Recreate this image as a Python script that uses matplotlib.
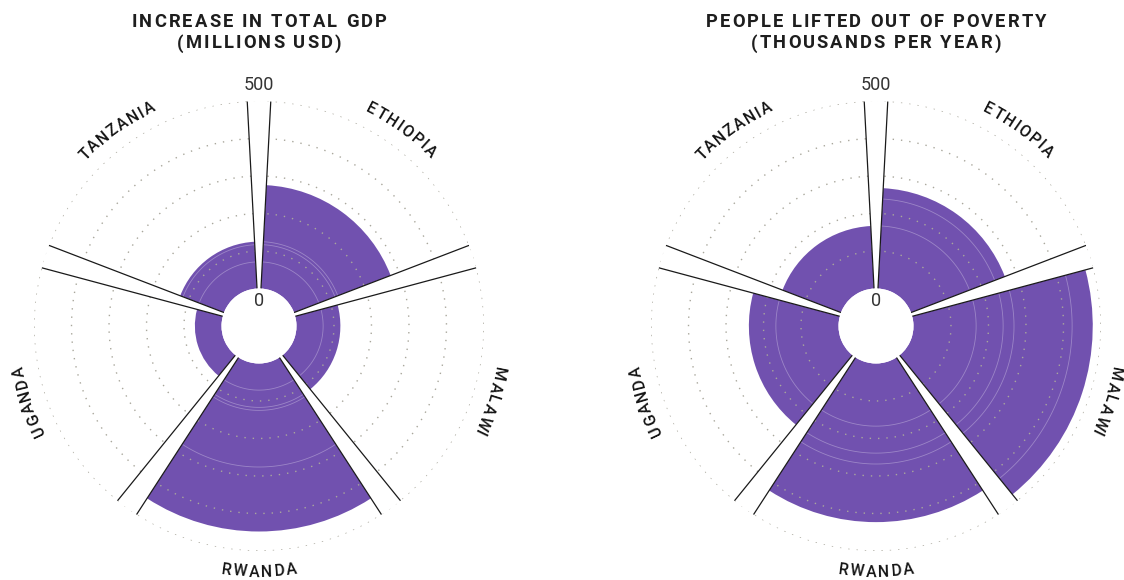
import matplotlib
matplotlib.use('Agg')
import numpy as np
import matplotlib.pyplot as plt
from matplotlib.font_manager import FontProperties
from matplotlib.transforms import IdentityTransform

# ---------------- data ----------------
countries = ['ETHIOPIA', 'MALAWI', 'RWANDA', 'UGANDA', 'TANZANIA']
gdp_increase = [276, 117, 448, 71, 125]          # millions USD
poverty_lifted = [268, 478, 423, 239, 167]       # thousands per year
title_gdp = ['INCREASE IN TOTAL GDP', '(MILLIONS USD)']
title_pov = ['PEOPLE LIFTED OUT OF POVERTY', '(THOUSANDS PER YEAR)']
r_ticks = [100, 200, 300, 400, 500]
r_min_label = '0'
r_max_label = '500'
R_MAX = 500

# ---------------- style ----------------
W, H = 1124, 580
PURPLE = '#7151AF'
GRID = '#a9a79c'
fig = plt.figure(figsize=(W / 100, H / 100), dpi=100)
fig.patch.set_facecolor('white')
renderer = fig.canvas.get_renderer()

title_prop = FontProperties(family=['Roboto', 'DejaVu Sans'], weight='bold', size=13.2)
label_prop = FontProperties(family=['Roboto', 'DejaVu Sans'], weight='medium', size=11.5)
tick_prop = FontProperties(family=['Roboto', 'DejaVu Sans'], weight='normal', size=13)

n = len(countries)
sector = 2 * np.pi / n
gap = np.deg2rad(6)
centers = np.arange(n) * sector + sector / 2
bounds = np.arange(n) * sector

R_OUT_PX = 225.0     # pixel radius of value R_MAX
ORIGIN = -100        # hole size in data units


def advances(s, prop):
    base = renderer.get_text_width_height_descent('HH', prop, ismath=False)[0]
    return [renderer.get_text_width_height_descent('H' + c + 'H', prop, ismath=False)[0] - base
            for c in s]


def tracked_text(xc, y_base, s, prop, track, color):
    adv = advances(s, prop)
    total = sum(adv) + track * (len(s) - 1)
    xx = xc - total / 2
    for c, a in zip(s, adv):
        if c != ' ':
            fig.text(xx + a / 2, H - y_base, c, fontproperties=prop, color=color,
                     ha='center', va='baseline', transform=IdentityTransform())
        xx += a + track


def px_to_val(rpx):
    return rpx / R_OUT_PX * (R_MAX - ORIGIN) + ORIGIN


def arc_text(ax, theta_c, s, prop, track, r_center_px, flip, color):
    adv = advances(s, prop)
    total = sum(adv) + track * (len(s) - 1)
    cap = 0.711 * prop.get_size_in_points() * 100 / 72
    if flip:
        r_base = px_to_val(r_center_px + cap / 2)
    else:
        r_base = px_to_val(r_center_px - cap / 2)
    cum = 0.0
    for c, a in zip(s, adv):
        off = (cum + a / 2 - total / 2) / r_center_px
        if flip:
            th = theta_c - off
            rot = 180 - np.rad2deg(th)
        else:
            th = theta_c + off
            rot = -np.rad2deg(th)
        ax.text(th, r_base, c, fontproperties=prop, color=color, rotation=rot,
                rotation_mode='anchor', ha='center', va='baseline', clip_on=False)
        cum += a + track


def radial_chart(cx, cy, values, title_lines):
    side = 2 * R_OUT_PX
    ax = fig.add_axes([(cx - R_OUT_PX) / W, (H - cy - R_OUT_PX) / H, side / W, side / H],
                      projection='polar')
    ax.set_theta_zero_location('N')
    ax.set_theta_direction(-1)
    ax.set_ylim(0, R_MAX)
    ax.set_rorigin(ORIGIN)
    ax.axis('off')

    # bars
    ax.bar(centers, values, width=sector - gap, bottom=0, color=PURPLE,
           edgecolor='none', zorder=2)

    # faint outlines of the other countries' values visible inside each bar
    for i, v in enumerate(values):
        th = np.linspace(centers[i] - (sector - gap) / 2, centers[i] + (sector - gap) / 2, 100)
        for j, w in enumerate(values):
            if j != i and w < v:
                ax.plot(th, np.full_like(th, w), color='white', alpha=0.3, lw=0.6, zorder=3)

    # dotted grid circles
    th_full = np.linspace(0, 2 * np.pi, 721)
    for r in r_ticks:
        ax.plot(th_full, np.full_like(th_full, r), color=GRID, lw=1.0,
                ls=(0, (1, 5)), zorder=3.5)

    # separating gaps
    ax.bar(bounds, R_MAX, width=gap, bottom=0, color='white', edgecolor='none', zorder=4)
    for b in bounds:
        for e in (b - gap / 2, b + gap / 2):
            ax.plot([e, e], [0, R_MAX], color='#1a1a1a', lw=0.9, zorder=5,
                    solid_capstyle='butt')

    # tick labels
    cap_t = 0.711 * tick_prop.get_size_in_points() * 100 / 72
    ax.text(0.5, 0.5 + 236.5 / side, r_max_label, transform=ax.transAxes,
            fontproperties=tick_prop, color='#333333', ha='center', va='baseline')
    ax.text(0.5, 0.5 + (26 - cap_t / 2) / side, r_min_label, transform=ax.transAxes,
            fontproperties=tick_prop, color='#333333', ha='center', va='baseline')

    # country labels along the arc
    for i, name in enumerate(countries):
        deg = np.rad2deg(centers[i])
        flip = 135 < deg < 225
        arc_text(ax, centers[i], name, label_prop, 1.7, 245.0, flip, '#151515')

    # title
    tracked_text(cx, 27, title_lines[0], title_prop, 2.1, '#1e1e1e')
    tracked_text(cx, 48.5, title_lines[1], title_prop, 2.1, '#1e1e1e')
    return ax


radial_chart(259, 326, gdp_increase, title_gdp)
radial_chart(876, 326, poverty_lifted, title_pov)

fig.savefig('out.png', dpi=100, facecolor='white')
